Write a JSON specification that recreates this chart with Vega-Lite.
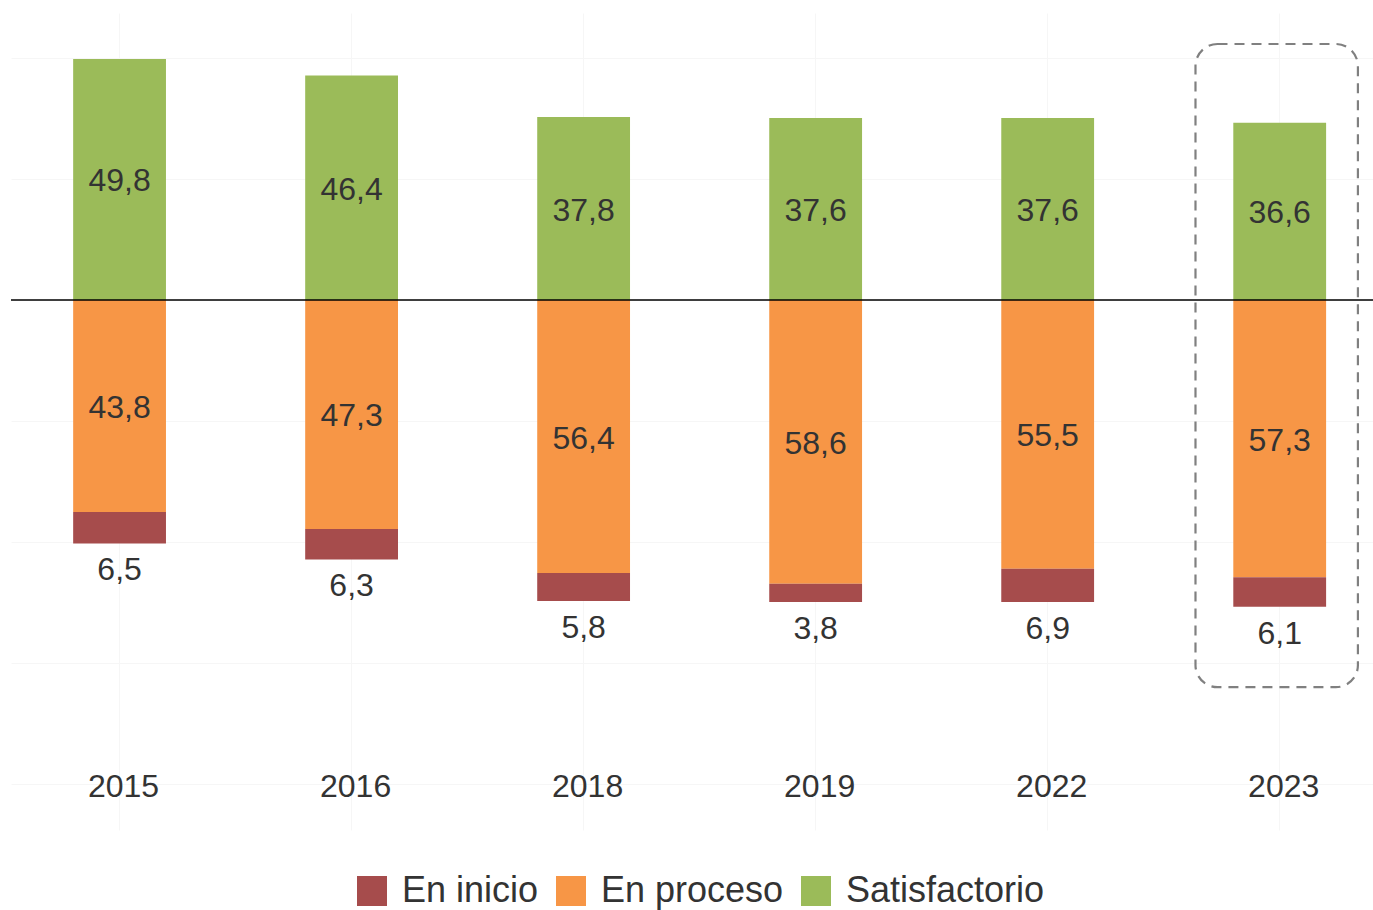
{
  "$schema": "https://vega.github.io/schema/vega-lite/v6.json",
  "width": 1362,
  "height": 817,
  "autosize": {"type": "none"},
  "padding": {"left": 11, "top": 13, "right": 0, "bottom": 80},
  "background": "white",
  "config": {"view": {"stroke": null}, "font": "Liberation Sans"},
  "data": {
    "values": [
      {"anio": "2015", "categoria": "Satisfactorio", "valor": 49.8},
      {"anio": "2015", "categoria": "En proceso", "valor": -43.8},
      {"anio": "2015", "categoria": "En inicio", "valor": -6.5},
      {"anio": "2016", "categoria": "Satisfactorio", "valor": 46.4},
      {"anio": "2016", "categoria": "En proceso", "valor": -47.3},
      {"anio": "2016", "categoria": "En inicio", "valor": -6.3},
      {"anio": "2018", "categoria": "Satisfactorio", "valor": 37.8},
      {"anio": "2018", "categoria": "En proceso", "valor": -56.4},
      {"anio": "2018", "categoria": "En inicio", "valor": -5.8},
      {"anio": "2019", "categoria": "Satisfactorio", "valor": 37.6},
      {"anio": "2019", "categoria": "En proceso", "valor": -58.6},
      {"anio": "2019", "categoria": "En inicio", "valor": -3.8},
      {"anio": "2022", "categoria": "Satisfactorio", "valor": 37.6},
      {"anio": "2022", "categoria": "En proceso", "valor": -55.5},
      {"anio": "2022", "categoria": "En inicio", "valor": -6.9},
      {"anio": "2023", "categoria": "Satisfactorio", "valor": 36.6},
      {"anio": "2023", "categoria": "En proceso", "valor": -57.3},
      {"anio": "2023", "categoria": "En inicio", "valor": -6.1}
    ]
  },
  "resolve": {"scale": {"y": "shared", "x": "shared"}},
  "layer": [
    {
      "mark": {"type": "bar"},
      "encoding": {
        "x": {
          "field": "anio", "type": "nominal", "sort": null,
          "scale": {"paddingInner": 0.6, "paddingOuter": 0.235, "align": 0.57},
          "axis": {"title": null, "labels": false, "ticks": false, "domain": false, "grid": true, "gridColor": "#f6f6f6", "gridWidth": 1}
        },
        "y": {
          "field": "valor", "type": "quantitative", "stack": "zero",
          "scale": {"domain": [-109.5, 59.3], "nice": false, "zero": false},
          "axis": {"title": null, "labels": false, "ticks": false, "domain": false, "grid": true, "values": [-100, -75, -50, -25, 0, 25, 50], "gridColor": "#f6f6f6", "gridWidth": 1}
        },
        "color": {
          "field": "categoria", "type": "nominal",
          "scale": {"domain": ["En inicio", "En proceso", "Satisfactorio"], "range": ["#a64c4c", "#f79646", "#9bbb59"]},
          "legend": {
            "orient": "none", "legendX": 343, "legendY": 860, "direction": "horizontal", "title": null,
            "symbolType": "square", "symbolSize": 900, "symbolStrokeWidth": 0, "symbolOpacity": 1,
            "labelFontSize": 36, "labelColor": "#333333", "labelOffset": 12, "columnPadding": 14, "labelLimit": 0,
            "labelFont": "Liberation Sans", "padding": 0
          }
        },
        "order": {"field": "categoria", "sort": "descending"}
      }
    },
    {
      "data": {"values": [{}]},
      "mark": {"type": "rule", "color": "#000000", "strokeWidth": 1.5},
      "encoding": {"y": {"datum": 0}}
    },
    {
      "data": {"values": [{"anio": "2023"}]},
      "mark": {"type": "bar", "width": {"band": 1.75}, "xOffset": -3, "fill": null, "fillOpacity": 0, "stroke": "#808080", "strokeWidth": 2.2, "strokeDash": [10, 7], "cornerRadius": 22},
      "encoding": {
        "x": {"field": "anio", "type": "nominal", "sort": null},
        "y": {"datum": 52.9},
        "y2": {"datum": -80}
      }
    },
    {
      "mark": {"type": "text", "fontSize": 32, "color": "#333333", "baseline": "middle", "dy": 2, "text": {"expr": "replace(format(abs(datum.valor), '.1f'), '.', ',')"}},
      "encoding": {
        "x": {"field": "anio", "type": "nominal", "sort": null},
        "y": {"field": "valor", "type": "quantitative", "stack": "zero", "bandPosition": 0.5},
        "detail": {"field": "categoria"},
        "order": {"field": "categoria", "sort": "descending"},
        "opacity": {"condition": {"test": "datum.categoria === 'En inicio'", "value": 0}, "value": 1}
      }
    },
    {
      "mark": {"type": "text", "fontSize": 32, "color": "#333333", "baseline": "middle", "dy": 27, "text": {"expr": "replace(format(abs(datum.valor), '.1f'), '.', ',')"}},
      "encoding": {
        "x": {"field": "anio", "type": "nominal", "sort": null},
        "y": {"field": "valor", "type": "quantitative", "stack": "zero", "bandPosition": 1},
        "detail": {"field": "categoria"},
        "order": {"field": "categoria", "sort": "descending"},
        "opacity": {"condition": {"test": "datum.categoria === 'En inicio'", "value": 1}, "value": 0}
      }
    },
    {
      "transform": [{"filter": "datum.categoria === 'Satisfactorio'"}],
      "mark": {"type": "text", "fontSize": 32, "color": "#333333", "baseline": "middle", "dx": 4, "dy": 3},
      "encoding": {
        "x": {"field": "anio", "type": "nominal", "sort": null},
        "y": {"datum": -100},
        "text": {"field": "anio"}
      }
    }
  ]
}
